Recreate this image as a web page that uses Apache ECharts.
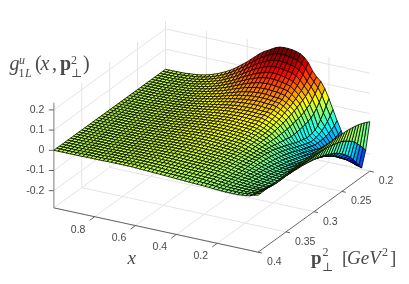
<!DOCTYPE html>
<html><head><meta charset="utf-8">
<style>html,body{margin:0;padding:0;background:#fff}#c{width:409px;height:284px}</style>
<script src="https://cdn.jsdelivr.net/npm/echarts@6/dist/echarts.min.js"></script>
</head><body><div id="c"></div>
<script>
const xValues=[0,.02,.04,.06,.08,.10,.12,.14,.16,.18,.20,.22,.24,.26,.28,.30,.32,.34,.36,.38,.40,.42,.44,.46,.48,.50,.52,.54,.56,.58,.60,.62,.64,.66,.68,.70,.72,.74,.76,.78,.80,.82,.84,.86,.88,.90,.92,.94,.96,.98,1];
const pValues=[.2,.205,.21,.215,.22,.225,.23,.235,.24,.245,.25,.255,.26,.265,.27,.275,.28,.285,.29,.295,.3,.305,.31,.315,.32,.325,.33,.335,.34,.345,.35,.355,.36,.365,.37,.375,.38,.385,.39,.395,.4];
// z values in thousandths, one line per x value, one column per p value
const zTable=[
[-40,-33,-26,-20,-15,-11,-8,-5,-3,-2,-1,-1,0,1,1,2,3,3,4,4,4,4,4,3,3,3,2,2,1,1,1,0,0,0,-1,-1,-2,-2,-2,-3,-3],
[-185,-163,-143,-123,-105,-92,-80,-70,-60,-54,-49,-44,-40,-37,-34,-32,-30,-29,-28,-28,-27,-27,-26,-26,-26,-26,-26,-27,-27,-27,-28,-28,-28,-26,-24,-21,-18,-15,-12,-10,-7],
[-278,-254,-229,-206,-185,-168,-152,-138,-125,-115,-106,-98,-90,-84,-78,-73,-68,-65,-62,-59,-56,-54,-52,-51,-49,-48,-47,-45,-44,-43,-41,-40,-38,-35,-32,-29,-26,-23,-20,-18,-15],
[-272,-254,-236,-218,-200,-184,-169,-155,-142,-132,-122,-113,-105,-98,-92,-86,-80,-75,-71,-67,-63,-60,-57,-54,-51,-49,-47,-46,-44,-42,-41,-39,-37,-35,-32,-30,-27,-25,-23,-20,-18],
[-250,-240,-227,-214,-200,-186,-172,-159,-147,-137,-128,-120,-112,-105,-98,-92,-86,-81,-76,-71,-67,-63,-59,-55,-52,-49,-47,-45,-43,-41,-39,-37,-35,-33,-31,-29,-27,-25,-24,-22,-20],
[-205,-201,-196,-190,-183,-173,-163,-152,-142,-133,-125,-117,-110,-103,-97,-91,-85,-80,-75,-70,-66,-62,-58,-54,-51,-48,-46,-43,-41,-39,-37,-35,-33,-31,-29,-28,-26,-25,-24,-23,-22],
[-165,-165,-165,-163,-160,-154,-148,-142,-135,-127,-120,-112,-105,-98,-92,-86,-80,-75,-70,-65,-61,-57,-54,-50,-47,-44,-42,-39,-37,-35,-33,-31,-30,-28,-27,-26,-25,-24,-23,-23,-22],
[-115,-123,-129,-133,-135,-134,-132,-129,-125,-118,-112,-105,-98,-92,-85,-80,-74,-69,-64,-59,-55,-51,-48,-44,-41,-39,-36,-34,-32,-30,-29,-27,-26,-25,-24,-24,-23,-23,-22,-22,-22],
[-70,-85,-96,-103,-108,-110,-111,-111,-110,-106,-101,-96,-90,-84,-78,-72,-66,-61,-56,-51,-47,-43,-40,-37,-34,-32,-30,-28,-27,-26,-25,-24,-23,-23,-23,-22,-22,-22,-22,-22,-22],
[-20,-41,-59,-73,-85,-92,-97,-99,-100,-96,-91,-86,-80,-74,-68,-62,-56,-51,-46,-41,-37,-33,-30,-27,-25,-24,-23,-22,-21,-21,-20,-20,-20,-20,-20,-20,-20,-20,-20,-21,-21],
[30,3,-21,-45,-65,-75,-81,-84,-85,-81,-77,-73,-68,-62,-57,-51,-45,-40,-35,-30,-25,-22,-19,-17,-16,-15,-15,-15,-15,-15,-16,-16,-17,-17,-18,-18,-19,-19,-19,-20,-20],
[75,50,27,7,-10,-20,-27,-32,-35,-38,-40,-41,-42,-39,-36,-33,-30,-27,-23,-20,-17,-15,-14,-13,-12,-12,-12,-12,-12,-12,-13,-13,-14,-15,-15,-16,-17,-17,-18,-18,-19],
[107,85,66,48,32,22,14,8,3,0,-3,-7,-10,-11,-11,-12,-12,-11,-10,-9,-8,-8,-7,-7,-7,-7,-7,-8,-8,-8,-9,-9,-10,-11,-11,-12,-13,-14,-15,-16,-17],
[125,110,95,81,68,59,51,43,36,31,26,21,16,13,10,7,4,3,2,2,1,0,0,-1,-2,-2,-3,-3,-4,-4,-5,-5,-6,-7,-8,-9,-10,-11,-13,-14,-16],
[150,134,119,105,92,82,72,63,54,48,42,36,30,26,22,18,14,12,11,9,8,7,6,4,3,2,2,1,0,-1,-1,-2,-3,-4,-5,-7,-8,-10,-12,-13,-15],
[185,165,147,129,112,100,89,78,68,61,54,47,41,36,31,27,22,20,18,17,15,13,11,10,8,7,6,4,3,2,1,0,-1,-2,-4,-5,-7,-9,-10,-12,-14],
[208,186,166,147,128,115,102,90,79,71,64,57,50,44,39,34,29,26,24,21,19,17,15,13,11,9,8,6,5,4,3,2,1,0,-2,-3,-5,-7,-9,-11,-13],
[222,198,176,155,135,121,107,94,82,74,67,60,53,48,43,38,33,30,27,25,22,20,17,15,13,11,10,8,7,6,4,3,2,1,-1,-2,-4,-6,-8,-10,-12],
[229,204,181,160,140,125,110,97,84,76,68,60,53,48,43,38,34,31,29,26,24,22,19,17,15,13,12,10,9,7,6,4,3,2,0,-1,-3,-5,-7,-9,-11],
[233,208,185,164,145,129,113,99,86,78,70,62,55,50,45,40,36,33,31,28,26,23,21,18,16,14,13,11,10,8,7,5,4,3,1,0,-2,-4,-6,-8,-10],
[235,211,188,167,148,131,115,101,88,79,71,63,56,51,46,41,37,34,32,29,27,25,22,20,18,16,14,13,11,9,8,6,5,3,2,0,-1,-3,-5,-7,-9],
[235,212,189,168,149,132,116,101,88,79,71,63,56,51,46,42,38,35,33,30,28,26,23,21,19,17,15,14,12,10,9,7,6,4,3,1,0,-2,-4,-6,-8],
[233,210,187,166,147,130,114,100,87,78,70,62,55,50,46,42,38,36,33,31,29,27,24,22,20,18,16,15,13,11,10,8,7,5,4,2,1,-1,-3,-5,-7],
[226,204,182,162,143,127,112,98,85,77,68,61,54,49,45,41,38,36,33,31,29,27,25,23,21,19,17,16,14,12,11,9,8,6,5,3,2,0,-2,-4,-6],
[215,194,174,154,136,121,107,94,82,74,66,59,53,48,44,40,37,35,33,31,29,27,25,23,21,19,17,16,14,12,11,9,8,7,6,4,3,1,-1,-3,-5],
[203,183,164,145,128,114,101,89,78,70,63,57,51,47,43,39,36,34,32,30,28,26,24,22,20,18,17,15,14,13,12,10,9,8,7,5,4,2,0,-2,-4],
[192,172,154,136,120,107,95,84,74,67,60,54,48,44,41,37,34,32,30,29,27,25,23,22,20,18,17,15,14,13,12,10,9,8,7,5,4,2,1,-1,-3],
[178,159,141,125,110,98,87,77,68,62,56,50,45,41,38,35,32,30,28,27,25,23,22,20,19,17,16,14,13,12,11,10,9,8,6,5,4,3,2,0,-2],
[160,143,127,113,100,89,79,70,62,56,51,46,41,38,35,33,30,28,27,25,24,22,21,19,18,17,15,14,13,12,11,10,9,8,7,6,5,4,2,1,-1],
[143,128,114,101,90,80,71,63,56,51,46,42,38,35,32,30,27,26,25,23,22,20,19,17,16,15,14,13,12,11,10,9,8,7,6,6,5,4,3,1,0],
[125,112,100,89,78,70,62,55,49,45,41,37,34,32,29,27,25,24,23,21,20,19,18,16,15,14,13,12,11,10,9,9,8,7,6,6,5,4,3,2,1],
[110,98,87,77,68,61,54,48,43,39,36,33,30,28,26,24,22,21,20,19,18,17,16,15,14,13,12,11,10,9,8,8,7,6,6,5,5,4,3,3,2],
[95,85,76,67,59,53,47,42,38,35,32,29,27,25,23,22,20,19,18,17,16,15,14,13,12,11,10,10,9,8,8,7,7,6,6,5,5,4,3,3,2],
[80,72,64,57,50,45,41,37,33,30,28,25,23,21,20,18,17,16,15,15,14,13,12,12,11,10,9,9,8,8,7,7,6,6,5,5,4,4,3,3,2],
[67,60,53,47,42,38,34,31,28,26,24,22,20,19,17,16,15,14,13,13,12,11,11,10,9,9,8,8,7,7,6,6,5,5,5,4,4,4,3,3,2],
[56,50,44,39,35,32,29,26,24,22,20,18,17,16,15,14,13,12,12,11,10,10,9,9,8,8,7,7,6,6,6,5,5,5,4,4,3,3,3,2,2],
[46,41,37,33,29,26,24,22,20,18,17,15,14,13,13,12,11,11,10,10,9,9,8,8,7,7,6,6,5,5,5,4,4,4,4,3,3,3,3,2,2],
[37,33,30,27,24,22,20,18,16,15,14,13,12,11,11,10,9,9,8,8,7,7,7,6,6,5,5,5,4,4,4,3,3,3,3,3,3,3,2,2,2],
[29,26,24,21,19,17,16,14,13,12,11,11,10,9,9,8,7,7,7,6,6,6,6,5,5,5,4,4,4,4,3,3,3,3,3,2,2,2,2,1,1],
[22,20,18,17,15,14,13,11,10,10,9,8,8,7,7,6,6,6,5,5,5,5,4,4,4,4,3,3,3,3,3,2,2,2,2,2,2,2,1,1,1],
[16,15,14,12,11,10,9,9,8,8,7,7,6,6,6,5,5,5,4,4,4,4,4,3,3,3,3,2,2,2,2,2,2,2,2,1,1,1,1,1,1],
[12,11,10,9,8,8,7,7,6,6,6,5,5,5,4,4,4,4,3,3,3,3,3,2,2,2,2,2,2,2,2,1,1,1,1,1,1,1,1,1,1],
[8,8,7,7,6,6,6,5,5,5,5,4,4,4,4,3,3,3,3,3,2,2,2,2,2,2,2,1,1,1,1,1,1,1,1,1,1,1,1,1,1],
[6,6,5,5,4,4,4,3,3,3,3,3,3,3,2,2,2,2,2,2,2,2,1,1,1,1,1,1,1,1,1,1,1,1,1,1,1,1,0,0,0],
[4,4,3,3,3,3,2,2,2,2,2,2,2,1,1,1,1,1,1,1,1,1,1,1,1,1,1,1,1,1,1,1,1,1,0,0,0,0,0,0,0],
[2,2,2,2,2,2,1,1,1,1,1,1,1,1,1,1,1,1,1,1,1,1,1,1,1,1,1,0,0,0,0,0,0,0,0,0,0,0,0,0,0],
[1,1,1,1,1,1,1,1,1,1,1,1,1,1,1,0,0,0,0,0,0,0,0,0,0,0,0,0,0,0,0,0,0,0,0,0,0,0,0,0,0],
[1,1,1,1,1,0,0,0,0,0,0,0,0,0,0,0,0,0,0,0,0,0,0,0,0,0,0,0,0,0,0,0,0,0,0,0,0,0,0,0,0],
[0,0,0,0,0,0,0,0,0,0,0,0,0,0,0,0,0,0,0,0,0,0,0,0,0,0,0,0,0,0,0,0,0,0,0,0,0,0,0,0,0],
[0,0,0,0,0,0,0,0,0,0,0,0,0,0,0,0,0,0,0,0,0,0,0,0,0,0,0,0,0,0,0,0,0,0,0,0,0,0,0,0,0],
[0,0,0,0,0,0,0,0,0,0,0,0,0,0,0,0,0,0,0,0,0,0,0,0,0,0,0,0,0,0,0,0,0,0,0,0,0,0,0,0,0]
];
const xTicks=[.8,.6,.4,.2], xTickLabels=['0.8','0.6','0.4','0.2'];
const pTicks=[.2,.25,.3,.35,.4], pTickLabels=['0.2','0.25','0.3','0.35','0.4'];
const zTicks=[.2,.1,0,-.1,-.2], zTickLabels=['0.2','0.1','0','-0.1','-0.2'];
const zBottom=-.285, zTop=.236, colorMin=-.285, colorMax=.225;

// orthographic view of the box, in chart-plane units
function view(x,p,z){
  const a=1-x,u=(p-.2)/.2;
  return [165.5+204.3*a-111.7*u, 69.3+44.3*a+81*u-202*z];
}
function jet(z){
  const t=Math.max(0,Math.min(1,(z-colorMin)/(colorMax-colorMin)));
  const c=v=>Math.round(255*Math.max(0,Math.min(1,1.5-Math.abs(4*t-v))));
  return 'rgb('+c(3)+','+c(2)+','+c(1)+')';
}
const GRID='#e4e4e4',AXIS='#555';
const segs=[];
function seg(a,b,color,w){segs.push([a,b,color,w]);}
// back walls and floor
zTicks.forEach(z=>{seg([1,.4,z],[1,.2,z],GRID,1);seg([1,.2,z],[0,.2,z],GRID,1);});
xTicks.forEach(x=>{seg([x,.4,zBottom],[x,.2,zBottom],GRID,1);seg([x,.2,zBottom],[x,.2,zTop],GRID,1);});
pTicks.forEach(p=>{seg([0,p,zBottom],[1,p,zBottom],GRID,1);seg([1,p,zBottom],[1,p,zTop],GRID,1);});
seg([1,.2,zBottom],[0,.2,zBottom],GRID,1);
seg([1,.4,zBottom],[1,.2,zBottom],GRID,1);
// front axes
seg([1,.4,zBottom],[1,.4,zTop],'#b0b0b0',1.6);
seg([1,.4,zBottom],[0,.4,zBottom],AXIS,.9);
seg([0,.4,zBottom],[0,.2,zBottom],AXIS,.9);

const cells=[];
for(let i=xValues.length-2;i>=0;i--)for(let j=0;j<pValues.length-1;j++)cells.push([i,j]);

const tickItems=[];
zTicks.forEach((z,k)=>tickItems.push(['z',z,k]));
xTicks.forEach((x,k)=>tickItems.push(['x',x,k]));
pTicks.forEach((p,k)=>tickItems.push(['p',p,k]));

const SERIF='"Liberation Serif","DejaVu Serif",serif',TXT='#4a4a4a';
function mt(text,x,y,size,style,weight){
  return {type:'text',silent:true,x:x,y:y-size*0.86,style:{text:text,fill:TXT,font:(style||'normal')+' '+(weight||'normal')+' '+size+'px '+SERIF,textAlign:'left',textVerticalAlign:'top'}};
}
const labels=[
 mt('g',9.5,72,20,'italic'),mt('u',19,65,12,'italic'),mt('1',18.5,78,12),mt('L',25,78,12,'italic'),
 mt('(',35,72,20),mt('x',40.5,72,20,'italic'),mt(',',52,72,20),mt('p',60,72,20,'normal','bold'),
 mt('2',71,65,12),mt('⊥',71,78,12),mt(')',83,72,20),
 mt('x',127.5,266,19,'italic'),
 mt('p',311,266,19,'normal','bold'),mt('2',322.5,257,12),mt('⊥',322,272,12),
 mt('[',342,266,19),mt('GeV',347,266,19,'italic'),mt('2',382,257,12),mt(']',390,266,19)
];

const chart=echarts.init(document.getElementById('c'),null,{renderer:'canvas'});
chart.setOption({
 animation:false,
 grid:{left:0,top:0,right:0,bottom:0},
 xAxis:{type:'value',min:0,max:409,show:false},
 yAxis:{type:'value',min:0,max:284,inverse:true,show:false},
 tooltip:{show:false},
 graphic:labels,
 series:[
  {type:'custom',name:'frame',coordinateSystem:'cartesian2d',silent:true,clip:false,z:1,progressive:0,
   data:segs.map((s,i)=>[i]),
   renderItem(params,api){
     const s=segs[api.value(0)];
     const A=api.coord(view(...s[0])),B=api.coord(view(...s[1]));
     return {type:'line',shape:{x1:A[0],y1:A[1],x2:B[0],y2:B[1]},style:{stroke:s[2],lineWidth:s[3]}};
   }},
  {type:'custom',name:'ticks',coordinateSystem:'cartesian2d',silent:true,clip:false,z:3,progressive:0,
   data:tickItems.map((t,i)=>[i]),
   renderItem(params,api){
     const t=tickItems[api.value(0)];let P,d,lx,ly,al,txt;
     if(t[0]==='z'){P=api.coord(view(1,.4,t[1]));d=[-5,0];lx=P[0]-9.5;ly=P[1];al='right';txt=zTickLabels[t[2]];}
     else if(t[0]==='x'){P=api.coord(view(t[1],.4,zBottom));d=[-5,3.6];lx=P[0]-16.5;ly=P[1]+13;al='center';txt=xTickLabels[t[2]];}
     else{P=api.coord(view(0,t[1],zBottom));d=[4,.9];lx=P[0]+9;ly=P[1]+10;al='left';txt=pTickLabels[t[2]];}
     return {type:'group',children:[
       {type:'line',shape:{x1:P[0],y1:P[1],x2:P[0]+d[0],y2:P[1]+d[1]},style:{stroke:AXIS,lineWidth:.9}},
       {type:'text',x:lx,y:ly,style:{text:txt,fill:TXT,font:'10.5px "Liberation Sans",Arial,sans-serif',textAlign:al,textVerticalAlign:'middle'}}
     ]};
   }},
  {type:'custom',name:'surface',coordinateSystem:'cartesian2d',silent:true,clip:false,z:2,progressive:0,
   data:cells,
   renderItem(params,api){
     const i=api.value(0),j=api.value(1);
     const q=[[i,j],[i+1,j],[i+1,j+1],[i,j+1]];
     const pts=q.map(c=>api.coord(view(xValues[c[0]],pValues[c[1]],zTable[c[0]][c[1]]/1000)));
     return {type:'polygon',shape:{points:pts},style:{fill:jet(zTable[i][j]/1000),stroke:'#000',lineWidth:.8,lineJoin:'round'}};
   }}
 ]
});
</script></body></html>
